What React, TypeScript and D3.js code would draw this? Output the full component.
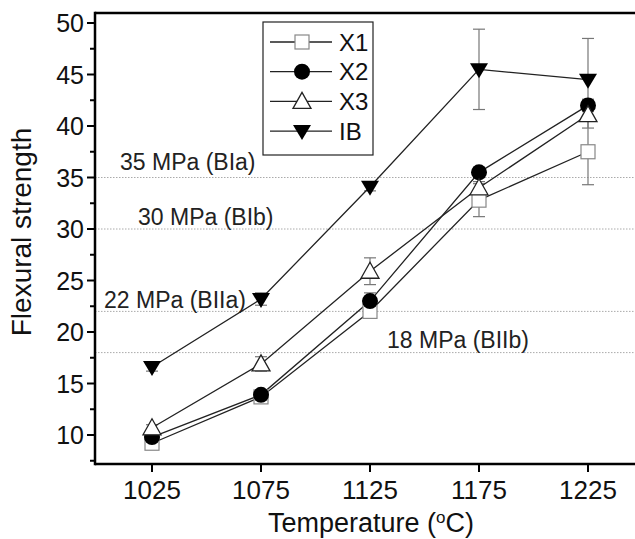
import React from "react";
import * as d3 from "d3";

const temps = [1025, 1075, 1125, 1175, 1225];
const x1Vals = [9.2, 13.7, 22.0, 32.8, 37.5];
const x1Err = [0.3, 0.4, 0.5, 1.6, 3.2];
const x2Vals = [9.8, 13.9, 23.0, 35.5, 42.0];
const x2Err = [0.3, 0.3, 0.8, 0.5, 0.6];
const x3Vals = [10.7, 16.9, 25.9, 34.0, 41.1];
const x3Err = [0.3, 0.7, 1.3, 0.6, 1.3];
const ibVals = [16.6, 23.2, 34.1, 45.5, 44.5];
const ibErr = [0.4, 0.6, 0.4, 3.9, 4.0];
const yTicks = [10, 15, 20, 25, 30, 35, 40, 45, 50];
const yMinorTicks = [7.5, 12.5, 17.5, 22.5, 27.5, 32.5, 37.5, 42.5, 47.5];
const refValues = [35, 30, 22, 18];
const refLabels = ["35 MPa (BIa)", "30 MPa (BIb)", "22 MPa (BIIa)", "18 MPa (BIIb)"];
const seriesNames = ["X1", "X2", "X3", "IB"];

const FONT = "'Liberation Sans', Arial, sans-serif";

export default function App() {
  const W = 635, H = 539;
  const x = d3.scaleLinear().domain([1025, 1225]).range([152, 588]);
  const y = d3.scaleLinear().domain([10, 50]).range([435, 23]);
  const left = 95, bottom = 464, top = 13, right = 645;

  const series = [
    { name: seriesNames[0], vals: x1Vals, err: x1Err, shape: "square" },
    { name: seriesNames[1], vals: x2Vals, err: x2Err, shape: "circle" },
    { name: seriesNames[2], vals: x3Vals, err: x3Err, shape: "triUp" },
    { name: seriesNames[3], vals: ibVals, err: ibErr, shape: "triDown" },
  ];

  const line = d3.line<number>().x((_, i) => x(temps[i])).y((d) => y(d));

  const marker = (shape: string, cx: number, cy: number, key: string) => {
    if (shape === "square")
      return <rect key={key} x={cx - 7} y={cy - 7} width={14} height={14} fill="#fff" stroke="#888" strokeWidth={1.2} />;
    if (shape === "circle")
      return <circle key={key} cx={cx} cy={cy} r={8} fill="#000" />;
    if (shape === "triUp")
      return <path key={key} d={`M${cx},${cy - 9}L${cx + 9},${cy + 7}L${cx - 9},${cy + 7}Z`} fill="#fff" stroke="#222" strokeWidth={1.3} />;
    return <path key={key} d={`M${cx - 9},${cy - 6}L${cx + 9},${cy - 6}L${cx},${cy + 9}Z`} fill="#000" />;
  };

  const refLabelPos = [
    { lx: 120, ly: 170 },
    { lx: 138, ly: 225 },
    { lx: 104, ly: 308 },
    { lx: 387, ly: 348 },
  ];

  return (
    <svg width={W} height={H} style={{ position: "absolute", left: 0, top: 0, background: "#fff" }} fontFamily={FONT}>
      <rect x={0} y={0} width={W} height={H} fill="#fff" />
      {/* reference lines */}
      {refValues.map((v, i) => (
        <g key={"ref" + i}>
          <line x1={left} x2={W} y1={y(v)} y2={y(v)} stroke="#aaa" strokeWidth={1} strokeDasharray="1.5,1.5" />
          <text x={refLabelPos[i].lx} y={refLabelPos[i].ly} fontSize={23} fill="#222">{refLabels[i]}</text>
        </g>
      ))}
      {/* error bars */}
      {series.map((s) =>
        s.vals.map((v, i) => {
          const cx = x(temps[i]);
          const e = s.err[i];
          return (
            <g key={s.name + "e" + i} stroke="#777" strokeWidth={1.2}>
              <line x1={cx} x2={cx} y1={y(v - e)} y2={y(v + e)} />
              <line x1={cx - 6} x2={cx + 6} y1={y(v - e)} y2={y(v - e)} />
              <line x1={cx - 6} x2={cx + 6} y1={y(v + e)} y2={y(v + e)} />
            </g>
          );
        })
      )}
      {/* lines */}
      {series.map((s) => (
        <path key={s.name + "l"} d={line(s.vals) || ""} fill="none" stroke="#222" strokeWidth={1.3} />
      ))}
      {/* markers */}
      {series.map((s) => s.vals.map((v, i) => marker(s.shape, x(temps[i]), y(v), s.name + "m" + i)))}
      {/* axes frame */}
      <line x1={left} x2={right} y1={top} y2={top} stroke="#000" strokeWidth={2.5} />
      <line x1={left} x2={left} y1={top - 1.25} y2={bottom + 1.25} stroke="#000" strokeWidth={2.5} />
      <line x1={left} x2={right} y1={bottom} y2={bottom} stroke="#000" strokeWidth={2.5} />
      {/* y ticks */}
      {yTicks.map((t) => (
        <g key={"yt" + t}>
          <line x1={left - 8} x2={left} y1={y(t)} y2={y(t)} stroke="#000" strokeWidth={2} />
          <text x={left - 11} y={y(t)} dy="0.36em" textAnchor="end" fontSize={25} fill="#111">{t}</text>
        </g>
      ))}
      {yMinorTicks.map((t) => (
        <line key={"ym" + t} x1={left - 5} x2={left} y1={y(t)} y2={y(t)} stroke="#000" strokeWidth={2} />
      ))}
      {/* x ticks */}
      {temps.map((t) => (
        <g key={"xt" + t}>
          <line x1={x(t)} x2={x(t)} y1={bottom} y2={bottom + 8} stroke="#000" strokeWidth={2} />
          <text x={x(t)} y={bottom + 35} textAnchor="middle" fontSize={26} fill="#111">{t}</text>
        </g>
      ))}
      {/* axis titles */}
      <text x={371} y={532} textAnchor="middle" fontSize={27} fill="#111">
        Temperature (<tspan baselineShift="super" fontSize={17}>o</tspan>C)
      </text>
      <text transform="translate(31,232) rotate(-90)" textAnchor="middle" fontSize={28} fill="#111">Flexural strength</text>
      {/* legend */}
      <rect x={263} y={22} width={110} height={133} fill="#fff" stroke="#222" strokeWidth={1.2} />
      {series.map((s, i) => {
        const ly = 42 + i * 29.7;
        return (
          <g key={s.name + "leg"}>
            <line x1={270} x2={332} y1={ly} y2={ly} stroke="#222" strokeWidth={1.3} />
            {marker(s.shape, 302, ly, s.name + "lm")}
            <text x={339} y={ly} dy="0.36em" fontSize={24} fill="#111">{s.name}</text>
          </g>
        );
      })}
    </svg>
  );
}
